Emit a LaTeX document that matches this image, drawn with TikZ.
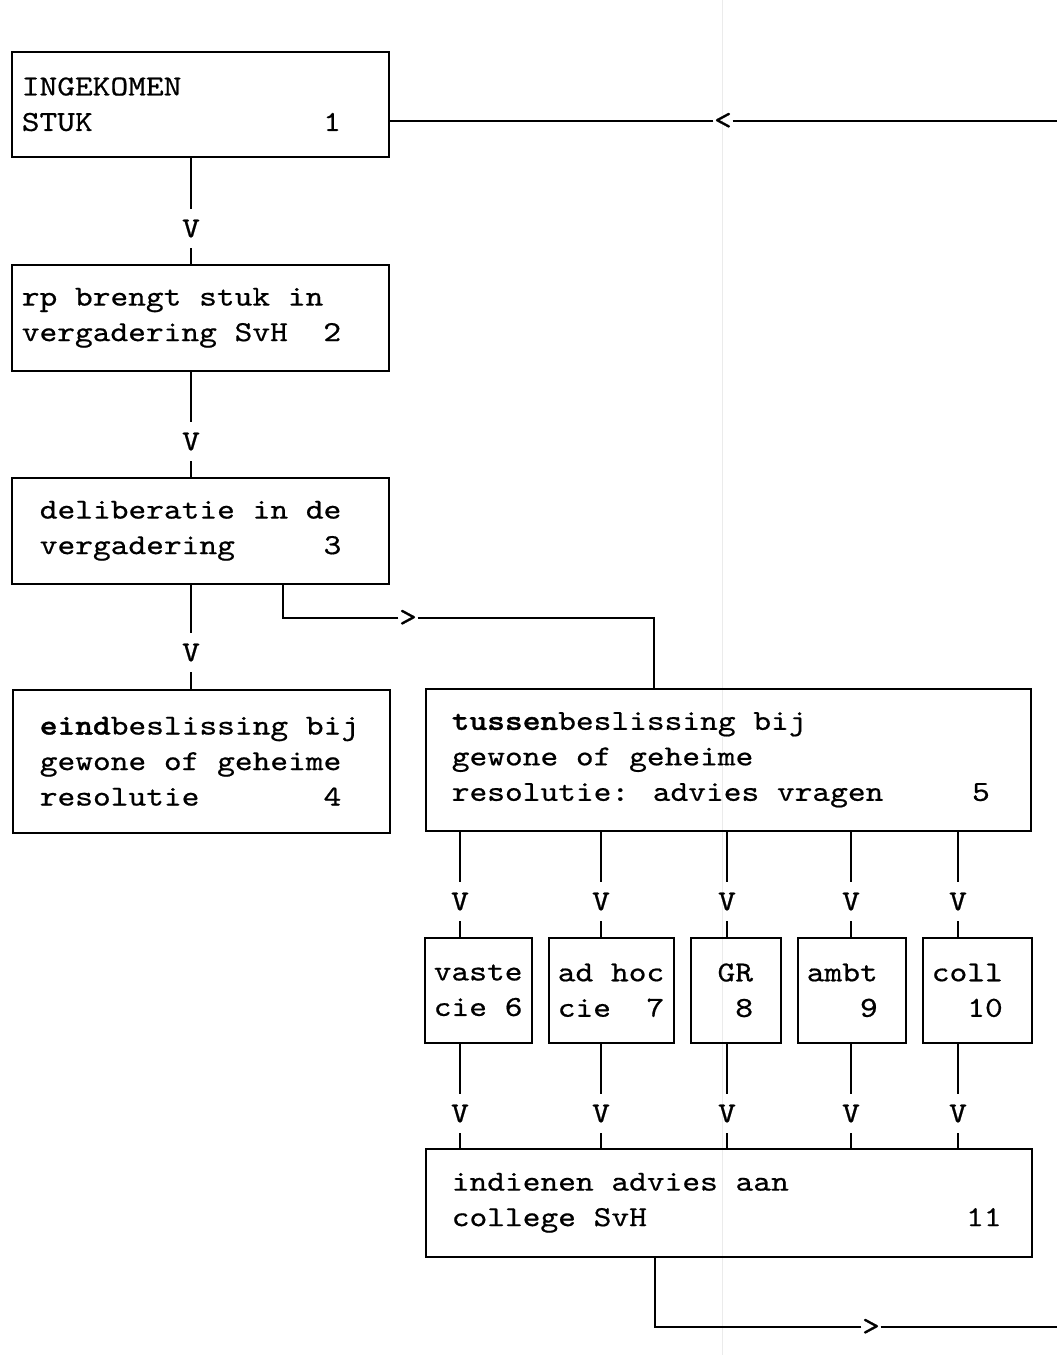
\documentclass[tikz,border=0pt]{standalone}
\usepackage{fontspec}
\usetikzlibrary{positioning}
\newfontfamily\courfont{lmmono10-regular.otf}[BoldFont=lmmonolt10-bold.otf, FakeStretch=1.165, UprightFeatures={FakeBold=0.6}, BoldFeatures={FakeBold=1.2}]
\newcommand\blank{\phantom{0}}
\tikzset{
  box/.style={draw, anchor=north west, inner sep=0pt},
  txt/.style={align=left, inner sep=0pt, font=\courfont\fontsize{29}{35.5}\selectfont},
  arr/.style={inner xsep=0pt, inner ysep=10pt, font=\courfont\fontsize{29}{35.5}\selectfont},
}
\begin{document}
\begin{tikzpicture}[x=1pt, y=-1pt, line width=1.6pt]
\useasboundingbox (0,0) rectangle (1057,1355);
\draw[black!8, line width=1pt] (722,0) -- (722,1355);
% boxes
\node[box, minimum width=377pt, minimum height=105pt] (stuk) at (11,51) {};
\node[box, minimum width=377pt, minimum height=106pt] (brengt) at (11,264) {};
\node[box, minimum width=377pt, minimum height=106pt] (delib) at (11,477) {};
\node[box, minimum width=377pt, minimum height=143pt] (eind) at (12,689) {};
\node[box, minimum width=605pt, minimum height=142pt] (tussen) at (425,688) {};
\node[box, minimum width=107pt, minimum height=105pt] (vaste) at (424,937) {};
\node[box, minimum width=125pt, minimum height=105pt] (adhoc) at (548,937) {};
\node[box, minimum width=90pt, minimum height=105pt] (gr) at (690,937) {};
\node[box, minimum width=108pt, minimum height=105pt] (ambt) at (797,937) {};
\node[box, minimum width=109pt, minimum height=105pt] (coll) at (922,937) {};
\node[box, minimum width=606pt, minimum height=108pt] (indienen) at (425,1148) {};
% texts
\node[txt, right=10pt of stuk.west] (stuktxt) {INGEKOMEN\\STUK~~~~~~~~~~~~~1};
\node[txt, right=10pt of brengt.west] (brengttxt) {rp brengt stuk in\\vergadering SvH~~2};
\node[txt, right=28pt of delib.west] (delibtxt) {deliberatie in de\\vergadering~~~~~3};
\node[txt, right=27pt of eind.west] (eindtxt) {\textbf{eind}beslissing bij\\gewone of geheime\\resolutie~~~~~~~4};
\node[txt, right=26pt of tussen.west] (tussentxt) {\textbf{tussen}beslissing bij\\gewone of geheime\\resolutie: advies vragen~~~~~5};
\node[txt, right=9pt of vaste.west] (vastetxt) {vaste\\cie 6};
\node[txt, right=9pt of adhoc.west] (adhoctxt) {ad hoc\\cie~~7};
\node[txt, right=9pt of gr.west] (grtxt) {\blank GR\\\blank\blank 8};
\node[txt, right=9pt of ambt.west] (ambttxt) {ambt\\\blank\blank\blank 9};
\node[txt, right=9pt of coll.west] (colltxt) {coll\\\blank\blank 10};
\node[txt, right=26pt of indienen.west] (indienentxt) {indienen advies aan\\college SvH~~~~~~~~~~~~~~~~~~11};
% main line
\node[arr] (v1) at (191,228.5) {V};
\node[arr] (v2) at (191,441.5) {V};
\node[arr] (v3) at (191,652.5) {V};
\draw (v1) -- (v1 |- stuk.south);
\draw (v1) -- (v1 |- brengt.north);
\draw (v2) -- (v2 |- brengt.south);
\draw (v2) -- (v2 |- delib.north);
\draw (v3) -- (v3 |- delib.south);
\draw (v3) -- (v3 |- eind.north);
% advice branches
\foreach \n/\x in {vaste/460, adhoc/601, gr/727, ambt/851, coll/958} {
  \node[arr] (va\n) at (\x,901.5) {V};
  \node[arr] (vb\n) at (\x,1113.5) {V};
  \draw (va\n) -- (va\n |- tussen.south);
  \draw (va\n) -- (va\n |- \n.north);
  \draw (vb\n) -- (vb\n |- \n.south);
  \draw (vb\n) -- (vb\n |- indienen.north);
}
% side lines
\coordinate (back) at (1057,121);
\node[arr] (lt) at (723,121) {<};
\draw (lt) -- (lt -| stuk.east);
\draw (lt) -- (back);
\coordinate (d3) at (283,583);
\coordinate (t5) at (654,688);
\node[arr] (gt1) at (408,618) {>};
\draw (gt1) -| (d3);
\draw (gt1) -| (t5);
\coordinate (o11) at (655,1256);
\coordinate (out) at (1057,1327);
\node[arr] (gt2) at (871,1327) {>};
\draw (gt2) -| (o11);
\draw (gt2) -- (out);
\end{tikzpicture}
\end{document}
